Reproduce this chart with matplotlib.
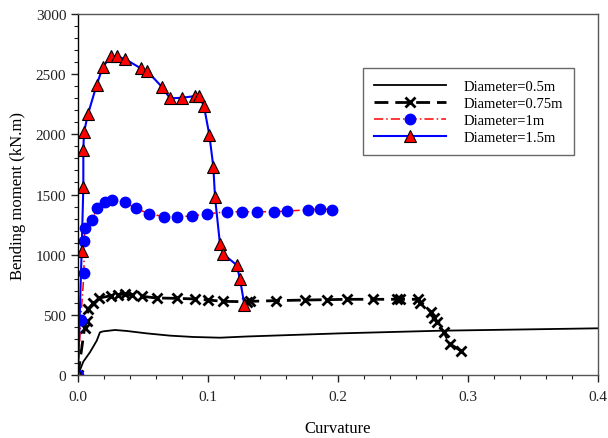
import matplotlib
matplotlib.use("Agg")
import matplotlib.pyplot as plt
from matplotlib.ticker import MultipleLocator, FormatStrFormatter

plt.rcParams['font.family'] = ['Liberation Serif', 'DejaVu Serif']

# Diameter = 0.5 m
x05 = [0.0, 0.0041, 0.0092, 0.0144, 0.0169, 0.0195, 0.0285, 0.0374, 0.0528, 0.0708, 0.0887, 0.1092, 0.1298, 0.2015, 0.2785, 0.4]
y05 = [0, 111, 189, 285, 355, 363, 374, 366, 346, 327, 316, 310, 320, 346, 368, 388]

# Diameter = 0.75 m
x075 = [0.0, 0.0050, 0.0067, 0.0079, 0.0118, 0.0164, 0.0254, 0.0310, 0.0362, 0.0413, 0.0490, 0.0605, 0.0759, 0.0900,
        0.1003, 0.1118, 0.1298, 0.1323, 0.1523, 0.1746, 0.1918, 0.2072, 0.2267, 0.2451, 0.2477, 0.2613, 0.2631,
        0.2715, 0.2741, 0.2759, 0.2815, 0.2862, 0.2944]
y075 = [0, 388, 451, 548, 598, 640, 659, 667, 673, 665, 654, 640, 637, 632,
        623, 612, 609, 612, 618, 623, 626, 629, 629, 629, 629, 629, 598,
        526, 471, 438, 355, 258, 202]

# Diameter = 1 m
x1 = [0.0, 0.0021, 0.0046, 0.0046, 0.0054, 0.0105, 0.0149, 0.0208, 0.0264, 0.0362, 0.0444, 0.0549, 0.0664, 0.0759,
      0.0874, 0.0990, 0.1144, 0.1259, 0.1379, 0.1510, 0.1610, 0.1772, 0.1862, 0.1951]
y1 = [0, 460, 848, 1111, 1219, 1291, 1385, 1440, 1454, 1435, 1385, 1338, 1316, 1316,
      1321, 1338, 1357, 1357, 1357, 1357, 1363, 1372, 1380, 1375]

# Diameter = 1.5 m
x15 = [0.0, 0.0028, 0.0041, 0.0041, 0.0046, 0.0077, 0.0144, 0.0190, 0.0252, 0.0298, 0.0362, 0.0482, 0.0533, 0.0644,
       0.0708, 0.0802, 0.0900, 0.0933, 0.0969, 0.1010, 0.1041, 0.1054, 0.1092, 0.1118, 0.1220, 0.1246, 0.1280]
y15 = [0, 1028, 1560, 1872, 2017, 2169, 2412, 2557, 2648, 2648, 2626, 2549, 2524, 2396,
       2299, 2304, 2318, 2318, 2233, 1997, 1731, 1477, 1089, 1005, 914, 798, 582]

labels = ["Diameter=0.5m", "Diameter=0.75m", "Diameter=1m", "Diameter=1.5m"]

fig = plt.figure(figsize=(6.08, 4.39), dpi=100)
ax = fig.add_axes([78/608, 1-376/439, 520/608, 361/439])

ax.plot(x05, y05, color='black', lw=1.3, label=labels[0])
ax.plot(x075, y075, color='black', lw=2.0, ls=(0, (5, 2.5)), marker='x', ms=6.5, mew=2.0, label=labels[1])
ax.plot(x1, y1, color='red', lw=1.1, ls=(0, (6, 2, 1, 2)), marker='o', ms=7.5, mfc='blue', mec='blue', label=labels[2])
ax.plot(x15, y15, color='blue', lw=1.5, marker='^', ms=8, mfc='red', mec='black', mew=0.8, label=labels[3])

ax.set_xlim(0, 0.4)
ax.set_ylim(0, 3000)
ax.xaxis.set_major_locator(MultipleLocator(0.1))
ax.xaxis.set_minor_locator(MultipleLocator(0.02))
ax.yaxis.set_major_locator(MultipleLocator(500))
ax.yaxis.set_minor_locator(MultipleLocator(100))
ax.xaxis.set_major_formatter(FormatStrFormatter('%.1f'))
ax.tick_params(which='both', direction='out', top=False, right=False, labelsize=11, colors='#222222')
ax.tick_params(which='major', length=5, width=1)
ax.tick_params(which='minor', length=3, width=0.8)
ax.tick_params(axis='x', which='major', pad=6)
for s in ax.spines.values():
    s.set_color('#555555')
    s.set_linewidth(1.0)
ax.spines['left'].set_color('black')

ax.set_xlabel("Curvature", fontsize=12, labelpad=12)
ax.set_ylabel("Bending moment (kN.m)", fontsize=12, labelpad=7)

leg = ax.legend(loc='upper left', bbox_to_anchor=(0.5475, 0.8496), numpoints=1, fontsize=10.5,
                frameon=True, fancybox=False, edgecolor='#444444', handlelength=4.9,
                borderpad=0.8, labelspacing=0.25, handletextpad=1.2, borderaxespad=0)
leg.get_frame().set_linewidth(1.0)

fig.savefig("out.png", dpi=100)
